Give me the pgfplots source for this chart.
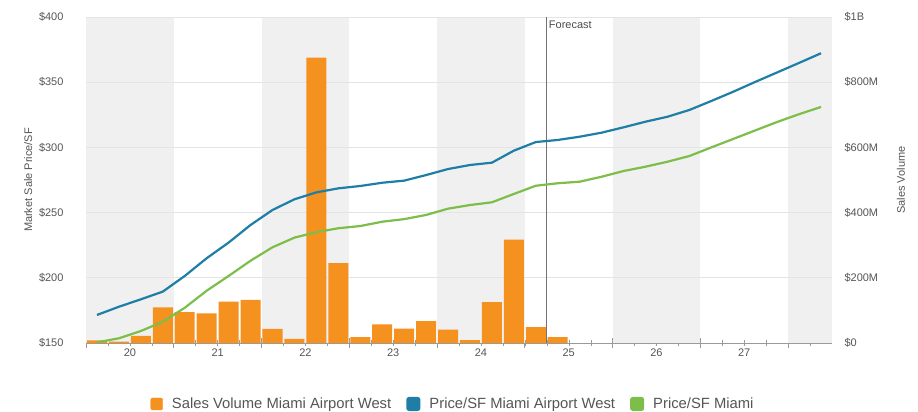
\documentclass[border=0pt]{standalone}
\usepackage{pgfplots}
\pgfplotsset{compat=1.18}
\usepackage{fontspec}
\setmainfont{Liberation Sans}
\definecolor{barorange}{HTML}{F5911E}
\definecolor{lineblue}{HTML}{1F7EA6}
\definecolor{linegreen}{HTML}{7DBE4A}
\definecolor{bandgray}{HTML}{F0F0F0}
\definecolor{gridgray}{HTML}{E4E4E4}
\definecolor{axisgray}{HTML}{9A9A9A}
\definecolor{txtgray}{HTML}{555555}
\newcommand{\tfont}{\fontsize{11bp}{13bp}\selectfont}
\newcommand{\lfont}{\fontsize{14.8bp}{17bp}\selectfont}
\begin{document}
\begin{tikzpicture}
\path[use as bounding box] (0,0) rectangle (918bp,412bp);
% ---------- volume axis (right) with bands, grid and bars
\begin{axis}[
  name=vol,
  at={(86bp,69bp)}, anchor=south west,
  width=746bp, height=326bp, scale only axis,
  xmin=2020, xmax=2028.5, ymin=0, ymax=1000,
  axis x line*=bottom, axis y line*=right,
  y axis line style={draw=none},
  x axis line style={draw=axisgray, line width=0.8bp},
  xtick={2020,2021,...,2028}, xticklabels={},
  minor xtick={2020.25,2020.5,...,2028.5},
  extra x ticks={2020.5,2021.5,...,2027.5},
  extra x tick labels={20,21,22,23,24,25,26,27},
  extra x tick style={major tick length=0pt},
  xtick align=center,
  major tick length=9bp, minor tick length=6bp,
  xtick style={draw=axisgray, line width=0.8bp},
  minor x tick style={draw=axisgray, line width=0.6bp},
  xticklabel style={font=\tfont, text=txtgray, yshift=-2bp},
  ytick={0,200,400,600,800,1000},
  yticklabels={\$0,\$200M,\$400M,\$600M,\$800M,\$1B},
  ytick style={draw=none},
  yticklabel style={font=\tfont, text=txtgray, anchor=west, xshift=9bp},
  ylabel={Sales Volume},
  ylabel style={font=\tfont, text=txtgray},
  ylabel shift=12bp,
  clip=false,
]
\fill[bandgray] (axis cs:2020,0) rectangle (axis cs:2021,1000);
\fill[bandgray] (axis cs:2022,0) rectangle (axis cs:2023,1000);
\fill[bandgray] (axis cs:2024,0) rectangle (axis cs:2025,1000);
\fill[bandgray] (axis cs:2026,0) rectangle (axis cs:2027,1000);
\fill[bandgray] (axis cs:2028,0) rectangle (axis cs:2028.5,1000);
\draw[gridgray, line width=0.8bp] (axis cs:2020,200) -- (axis cs:2028.5,200);
\draw[gridgray, line width=0.8bp] (axis cs:2020,400) -- (axis cs:2028.5,400);
\draw[gridgray, line width=0.8bp] (axis cs:2020,600) -- (axis cs:2028.5,600);
\draw[gridgray, line width=0.8bp] (axis cs:2020,800) -- (axis cs:2028.5,800);
\draw[gridgray, line width=0.8bp] (axis cs:2020,1000) -- (axis cs:2028.5,1000);
\addplot[ybar, bar width=0.228, fill=barorange, draw=none] coordinates {
(2020.125,8) (2020.375,4) (2020.625,22) (2020.875,109)
(2021.125,95) (2021.375,91) (2021.625,127) (2021.875,132)
(2022.125,43) (2022.375,13) (2022.625,875) (2022.875,245)
(2023.125,18) (2023.375,57) (2023.625,44) (2023.875,67)
(2024.125,41) (2024.375,9) (2024.625,125) (2024.875,317)
(2025.125,49) (2025.375,18)
};
\end{axis}
% ---------- price axis (left) with lines
\begin{axis}[
  at={(86bp,69bp)}, anchor=south west,
  width=746bp, height=326bp, scale only axis,
  xmin=2020, xmax=2028.5, ymin=150, ymax=400,
  axis x line=none, axis y line*=left,
  y axis line style={draw=none},
  ytick={150,200,...,400},
  yticklabels={\$150,\$200,\$250,\$300,\$350,\$400},
  ytick style={draw=none},
  yticklabel style={font=\tfont, text=txtgray, anchor=east, xshift=-19bp},
  ylabel={Market Sale Price/SF},
  ylabel style={font=\tfont, text=txtgray},
  clip=false,
  legend columns=3,
  legend image code/.code={\fill[rounded corners=2bp] (0bp,-6bp) rectangle (12bp,6bp);},
  legend style={draw=none, fill=none, at={(0.492,-0.187)}, anchor=center,
    font=\lfont, text=txtgray,
    /tikz/every odd column/.append style={column sep=7bp},
    /tikz/every even column/.append style={column sep=13bp}},
]
\addlegendimage{color=barorange, fill=barorange}
\addlegendentry{Sales Volume Miami Airport West}
\draw[color=black!55, line width=0.8bp] (axis cs:2025.25,150) -- (axis cs:2025.25,400);
\node[anchor=north west, font=\tfont, text=black!70, inner sep=2bp] at (axis cs:2025.25,399) {Forecast};
\addplot[color=lineblue, line width=2.2bp] coordinates {
(2020.125,171.5) (2020.375,177.8) (2020.625,183.5) (2020.875,189.4)
(2021.125,201.4) (2021.375,215.0) (2021.625,227.0) (2021.875,240.5)
(2022.125,252.0) (2022.375,260.2) (2022.625,265.5) (2022.875,268.6)
(2023.125,270.4) (2023.375,272.9) (2023.625,274.5) (2023.875,278.8)
(2024.125,283.4) (2024.375,286.5) (2024.625,288.3) (2024.875,297.5)
(2025.125,304.1) (2025.375,305.7) (2025.625,308.2) (2025.875,311.3)
(2026.125,315.4) (2026.375,319.7) (2026.625,323.5) (2026.875,328.7)
(2027.125,335.6) (2027.375,342.7) (2027.625,350.2) (2027.875,357.5)
(2028.125,364.8) (2028.375,372.2)
};
\addlegendentry{Price/SF Miami Airport West}
\addplot[color=linegreen, line width=2.2bp] coordinates {
(2020.125,150.5) (2020.375,153.6) (2020.625,159.2) (2020.875,166.3)
(2021.125,177.0) (2021.375,190.1) (2021.625,201.4) (2021.875,213.1)
(2022.125,223.4) (2022.375,230.8) (2022.625,235.0) (2022.875,238.0)
(2023.125,239.7) (2023.375,243.0) (2023.625,245.0) (2023.875,248.2)
(2024.125,253.0) (2024.375,255.8) (2024.625,257.9) (2024.875,264.3)
(2025.125,270.6) (2025.375,272.5) (2025.625,273.7) (2025.875,277.5)
(2026.125,281.9) (2026.375,285.2) (2026.625,289.0) (2026.875,293.4)
(2027.125,300.0) (2027.375,306.5) (2027.625,313.0) (2027.875,319.5)
(2028.125,325.5) (2028.375,331.0)
};
\addlegendentry{Price/SF Miami}
\end{axis}
\end{tikzpicture}
\end{document}
